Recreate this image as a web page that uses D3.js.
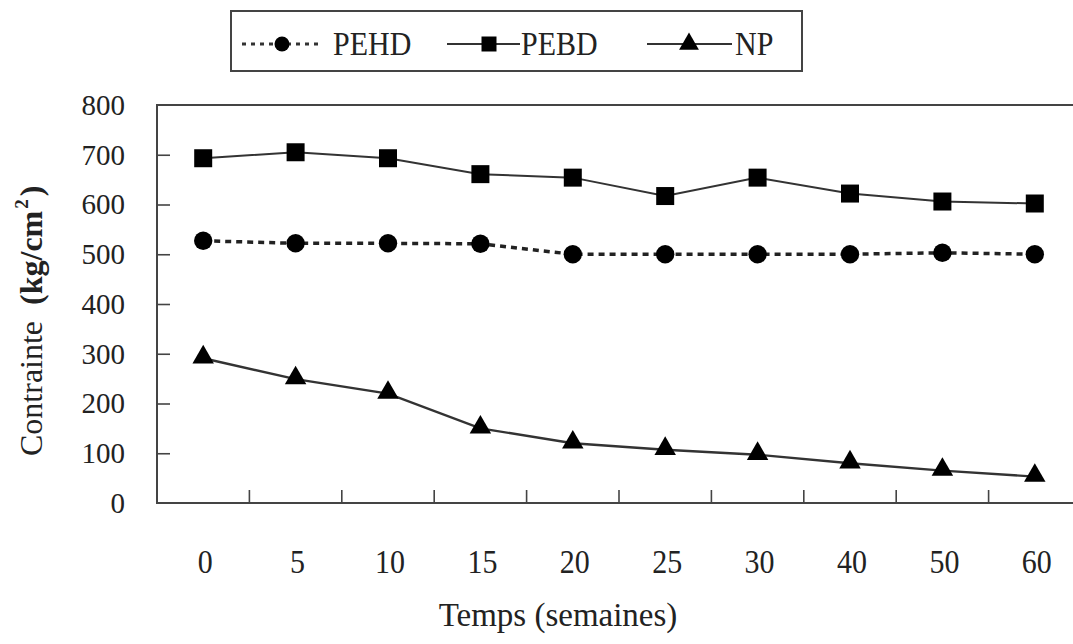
<!DOCTYPE html>
<html>
<head>
<meta charset="utf-8">
<script src="https://cdn.jsdelivr.net/npm/d3@7"></script>
<style>
  html, body { margin: 0; padding: 0; background: #fff; }
  svg { display: block; }
  svg text { font-family: "Liberation Serif", "Tinos", "Times New Roman", "DejaVu Serif", serif; }
</style>
</head>
<body>
<svg id="chart" width="1073" height="644"></svg>
<script>
// Tensile stress over time for three films
const categories = ["0", "5", "10", "15", "20", "25", "30", "40", "50", "60"];
const pehdValues = [527, 522, 522, 521, 500, 500, 500, 500, 503, 500];
const pebdValues = [693, 705, 693, 661, 654, 617, 654, 622, 606, 602];
const npValues   = [291, 249, 220, 150, 120, 107, 97, 80, 65, 53];
const yTickValues = [0, 100, 200, 300, 400, 500, 600, 700, 800];
const seriesNames = ["PEHD", "PEBD", "NP"];

const svg = d3.select("#chart");
const plot = { left: 157, top: 105, bottom: 503, right: 1081 };
const ink = "#222";
const lineInk = "#333";

const x = d3.scaleBand().domain(categories).range([plot.left, plot.right]).paddingInner(0).paddingOuter(0);
const y = d3.scaleLinear().domain([0, 800]).range([plot.bottom, plot.top]);
const cx = c => x(c) + x.bandwidth() / 2;

// Frame (left, top, bottom; right side runs off the page)
svg.append("path")
  .attr("d", `M${plot.right},${plot.top}H${plot.left}V${plot.bottom}H${plot.right}`)
  .attr("fill", "none").attr("stroke", "#444").attr("stroke-width", 2);

// Y axis: inward ticks, labels on the left
const yAxis = svg.append("g")
  .attr("transform", `translate(${plot.left},0)`)
  .call(d3.axisLeft(y).tickValues(yTickValues).tickSizeInner(-13).tickSizeOuter(0).tickPadding(32));
yAxis.attr("font-family", null);
yAxis.select(".domain").remove();
yAxis.selectAll(".tick line")
  .attr("stroke", "#444").attr("stroke-width", 1.6)
  .filter(d => d === 0 || d === 800).remove();
yAxis.selectAll(".tick text")
  .attr("font-size", 29).attr("fill", ink);

// X axis: labels at category centres, ticks on category boundaries
const xAxis = svg.append("g")
  .attr("transform", `translate(2,${plot.bottom})`)
  .call(d3.axisBottom(x).tickSize(0).tickPadding(40));
xAxis.attr("font-family", null);
xAxis.select(".domain").remove();
xAxis.selectAll(".tick text")
  .attr("font-size", 30).attr("fill", ink)
  .attr("transform", "scale(1,1.15)");

svg.append("g").selectAll("line")
  .data(categories.slice(1))
  .join("line")
  .attr("x1", d => x(d)).attr("x2", d => x(d))
  .attr("y1", plot.bottom).attr("y2", plot.bottom - 13)
  .attr("stroke", "#444").attr("stroke-width", 1.6);

// Axis titles
svg.append("text")
  .attr("x", 558).attr("y", 626)
  .attr("text-anchor", "middle")
  .attr("font-size", 33).attr("fill", ink)
  .text("Temps (semaines)");

const yTitle = svg.append("text")
  .attr("transform", "translate(42,456) rotate(-90)")
  .attr("text-anchor", "start")
  .attr("font-size", 32).attr("fill", ink);
yTitle.append("tspan").text("Contrainte");
yTitle.append("tspan").attr("dx", 16).attr("font-weight", "bold").text("(kg/cm");
yTitle.append("tspan").attr("dx", 2).attr("dy", -14).attr("font-size", 19).attr("font-weight", "bold").text("2");
yTitle.append("tspan").attr("dx", 3).attr("dy", 14).attr("font-weight", "bold").text(")");

// Series lines and markers
const line = d3.line().x((d, i) => cx(categories[i])).y(d => y(d));

svg.append("path").datum(pehdValues)
  .attr("d", line).attr("fill", "none")
  .attr("stroke", ink).attr("stroke-width", 3.5).attr("stroke-dasharray", "6,5");
svg.append("path").datum(pebdValues)
  .attr("d", line).attr("fill", "none")
  .attr("stroke", lineInk).attr("stroke-width", 2);
svg.append("path").datum(npValues)
  .attr("d", line).attr("fill", "none")
  .attr("stroke", lineInk).attr("stroke-width", 2.4);

const circleSym = d3.symbol().type(d3.symbolCircle);
const squareSym = d3.symbol().type(d3.symbolSquare);
const triSym = d3.symbol().type(d3.symbolTriangle);

svg.append("g").selectAll("path").data(pehdValues).join("path")
  .attr("d", circleSym.size(Math.PI * 9.2 * 9.2))
  .attr("transform", (d, i) => `translate(${cx(categories[i])},${y(d)})`)
  .attr("fill", "#000");
svg.append("g").selectAll("path").data(pebdValues).join("path")
  .attr("d", squareSym.size(18 * 18))
  .attr("transform", (d, i) => `translate(${cx(categories[i])},${y(d)})`)
  .attr("fill", "#000");
svg.append("g").selectAll("path").data(npValues).join("path")
  .attr("d", triSym.size(200))
  .attr("transform", (d, i) => `translate(${cx(categories[i])},${y(d) - 1})`)
  .attr("fill", "#000");

// Legend
const legend = svg.append("g");
legend.append("rect")
  .attr("x", 231).attr("y", 11).attr("width", 571).attr("height", 60)
  .attr("fill", "#fff").attr("stroke", "#444").attr("stroke-width", 2);

const legendItems = [
  { name: seriesNames[0], x1: 242, x2: 318, mx: 282, tx: 333, dash: "4,5", w: 3, sym: circleSym.size(Math.PI * 7.5 * 7.5) },
  { name: seriesNames[1], x1: 447, x2: 520, mx: 489, tx: 521, dash: null, w: 2, sym: squareSym.size(15 * 15) },
  { name: seriesNames[2], x1: 647, x2: 732, mx: 689, tx: 735, dash: null, w: 2, sym: triSym.size(170) }
];
const ly = 44;
legendItems.forEach(it => {
  legend.append("line")
    .attr("x1", it.x1).attr("x2", it.x2).attr("y1", ly).attr("y2", ly)
    .attr("stroke", lineInk).attr("stroke-width", it.w)
    .attr("stroke-dasharray", it.dash);
  legend.append("path").attr("d", it.sym)
    .attr("transform", `translate(${it.mx},${ly})`).attr("fill", "#000");
  legend.append("text")
    .attr("x", it.tx).attr("y", 55 / 1.12)
    .attr("transform", "scale(1,1.12)")
    .attr("font-size", 30).attr("fill", ink)
    .text(it.name);
});
</script>
</body>
</html>
